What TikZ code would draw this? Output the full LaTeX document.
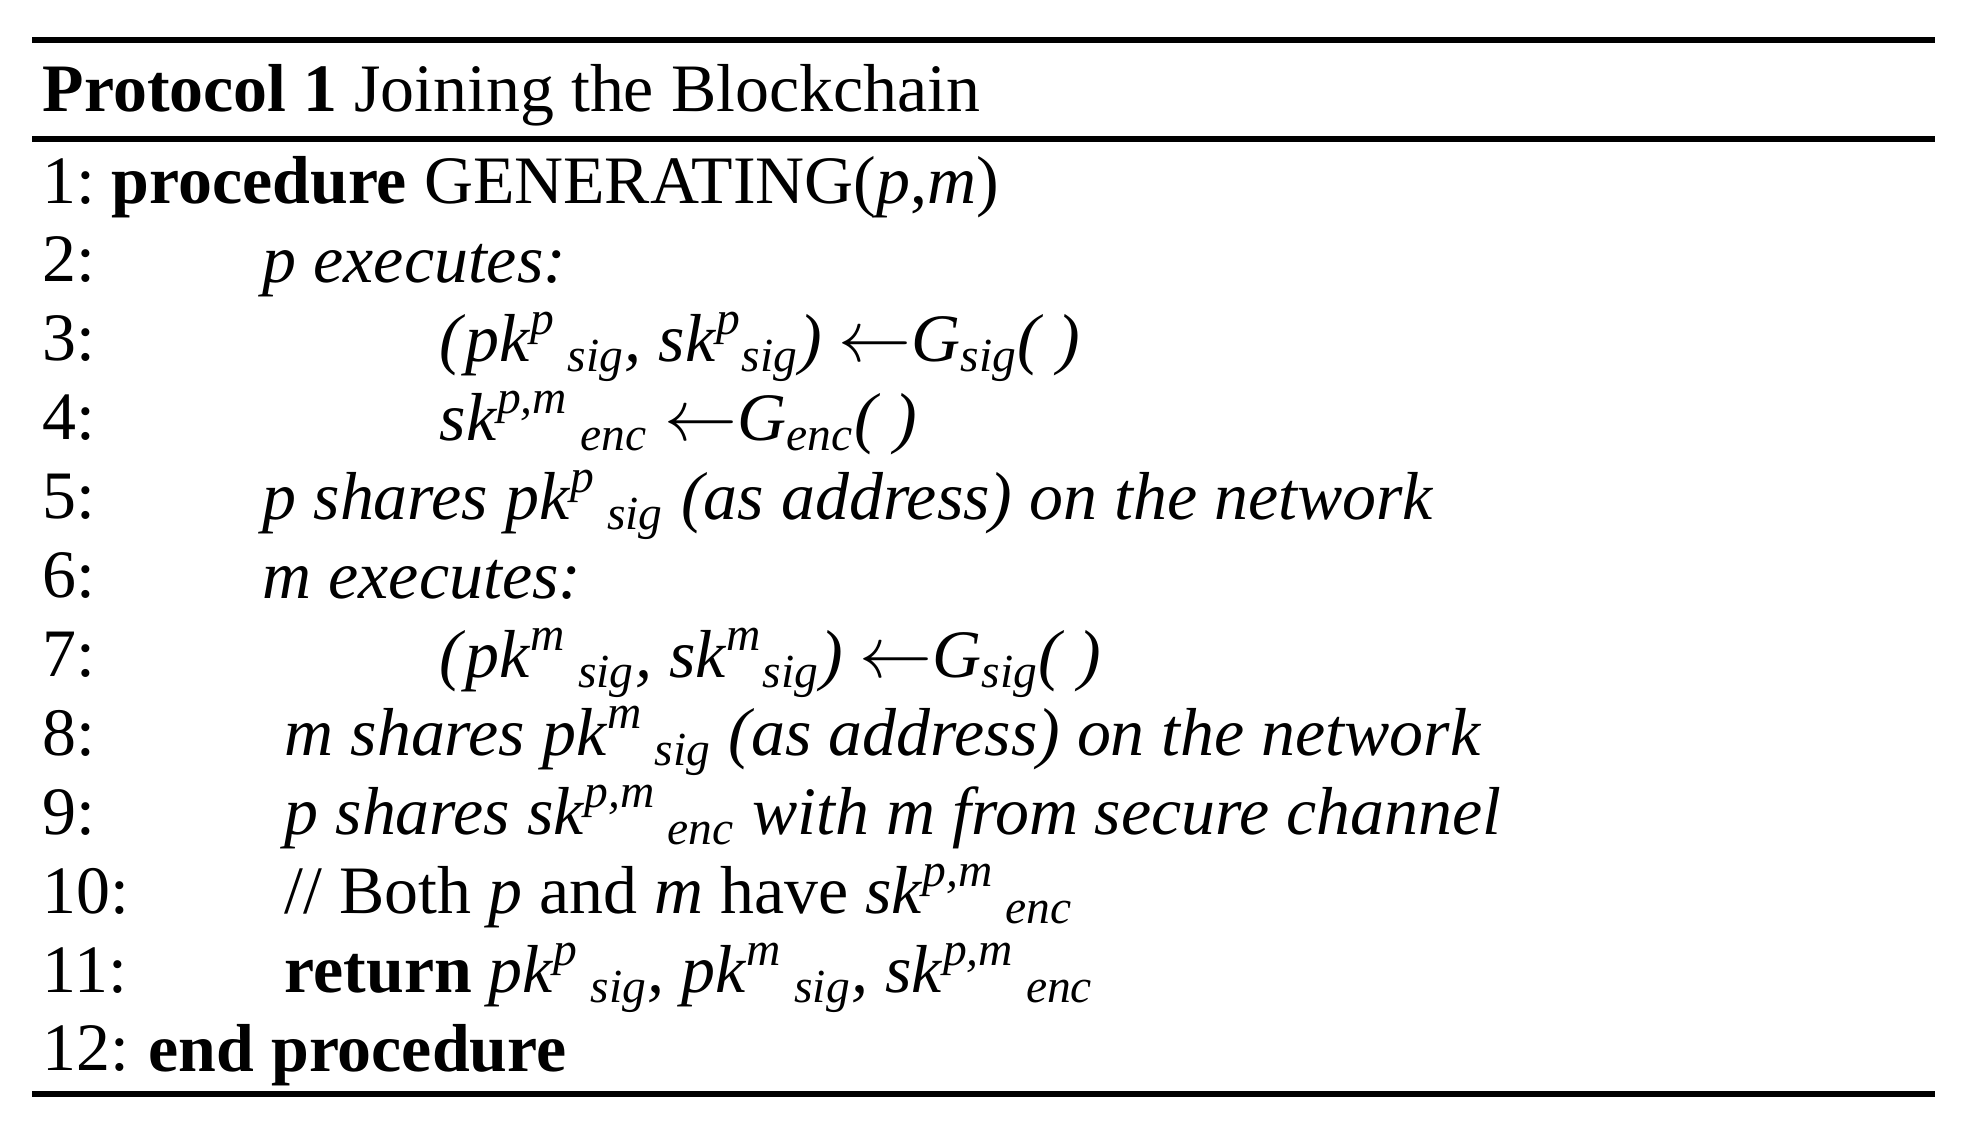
\documentclass[tikz,border=0pt]{standalone}
\usepackage{fontspec}
\setmainfont{Liberation Serif}
\newcommand\Key[3]{\textit{#1}\textsuperscript{\textit{#2}}\,\textsubscript{\textit{#3}}}
\begin{document}
\begin{tikzpicture}[x=0.01cm,y=-0.01cm,
  line/.style={anchor=base west,inner sep=0pt,font=\fontsize{19.3}{22}\selectfont},
  rule/.style={line width=1.6pt}]
\useasboundingbox (0,0) rectangle (1969,1120);
% rules
\draw[rule] (32,40) -- (1935,40);
\draw[rule] (32,139) -- (1935,139);
\draw[rule] (32,1094) -- (1935,1094);
\node[line] (head) at (42,111) {\textbf{Protocol 1} Joining the Blockchain};
% line numbers
\foreach \n in {1,...,10}
  \node[line] (n\n) at (42,{203+(\n-1)*78.9}) {\n:};
\node[line] (n11) at (42,{203+10*78.9}) {11:};
\node[line] (n12) at (42,{203+11*78.9}) {12:};
% body
\node[line] (l1) at (111,203) {\textbf{procedure} GENERATING(\textit{p},\textit{m})};
\node[line] (l2) at (262,282) {\textit{p executes:}};
\node[line] (l3) at (439,361) {\textit{(}\Key{pk}{p}{sig}\textit{, sk}\textsuperscript{\textit{p}}\textsubscript{\textit{sig}}\textit{)} $\leftarrow$\textit{G}\textsubscript{\textit{sig}}\textit{( )}};
\node[line] (l4) at (439,440) {\Key{sk}{p,m}{enc} $\leftarrow$\textit{G}\textsubscript{\textit{enc}}\textit{( )}};
\node[line] (l5) at (262,519) {\textit{p shares }\Key{pk}{p}{sig} \textit{(as address) on the network}};
\node[line] (l6) at (262,598) {\textit{m executes:}};
\node[line] (l7) at (439,677) {\textit{(}\Key{pk}{m}{sig}\textit{, sk}\textsuperscript{\textit{m}}\textsubscript{\textit{sig}}\textit{)} $\leftarrow$\textit{G}\textsubscript{\textit{sig}}\textit{( )}};
\node[line] (l8) at (284,755) {\textit{m shares }\Key{pk}{m}{sig} \textit{(as address) on the network}};
\node[line] (l9) at (284,834) {\textit{p shares }\Key{sk}{p,m}{enc} \textit{with m from secure channel}};
\node[line] (l10) at (284,913) {// Both \textit{p} and \textit{m} have \Key{sk}{p,m}{enc}};
\node[line] (l11) at (284,992) {\textbf{return} \Key{pk}{p}{sig}\textit{, }\Key{pk}{m}{sig}\textit{, }\Key{sk}{p,m}{enc}};
\node[line] (l12) at (148,1071) {\textbf{end procedure}};
\end{tikzpicture}
\end{document}
